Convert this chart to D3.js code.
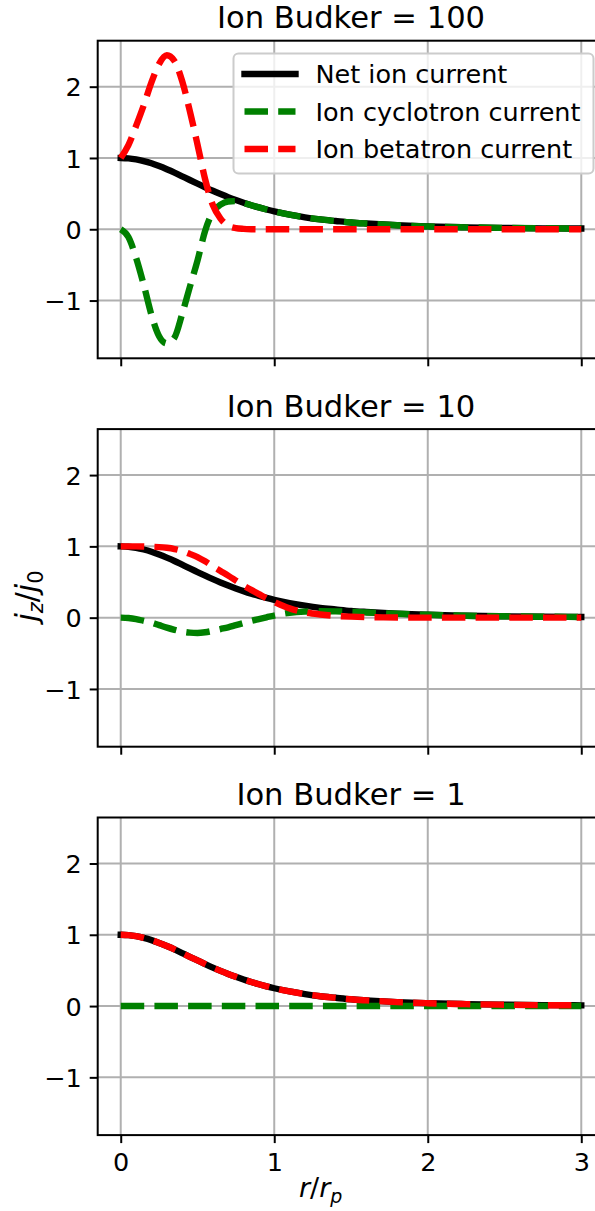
<!DOCTYPE html>
<html>
<head>
<meta charset="utf-8">
<script src="https://cdn.jsdelivr.net/npm/d3@7"></script>
<style>
  html, body { margin: 0; padding: 0; background: #fff; overflow: hidden; }
  svg { display: block; font-family: "DejaVu Sans", sans-serif; }
</style>
</head>
<body>
<svg id="chart" width="595" height="1211"></svg>
<script>
// Radial positions r/r_p where the current profiles are sampled
const rValues = [0, 0.05, 0.1, 0.15, 0.2, 0.25, 0.3, 0.35, 0.4, 0.45, 0.5, 0.55, 0.6, 0.65, 0.7, 0.75, 0.8, 0.85, 0.9, 0.95, 1.0, 1.1, 1.2, 1.3, 1.4, 1.5, 1.6, 1.8, 2.0, 2.25, 2.5, 2.75, 3.0];

// Net ion current j_z/j_0 (same in every panel)
const netCurrent = [1.0, 0.995, 0.98, 0.956, 0.925, 0.886, 0.842, 0.795, 0.743, 0.691, 0.64, 0.589, 0.54, 0.494, 0.45, 0.41, 0.372, 0.337, 0.306, 0.277, 0.25, 0.205, 0.168, 0.138, 0.116, 0.095, 0.08, 0.056, 0.04, 0.027, 0.019, 0.013, 0.01];

// Ion Budker = 100
const cyclotron100 = [0, -0.11, -0.4, -0.78, -1.2, -1.5, -1.6, -1.52, -1.19, -0.81, -0.44, -0.02, 0.24, 0.345, 0.39, 0.395, 0.37, 0.337, 0.306, 0.277, 0.25, 0.205, 0.168, 0.138, 0.116, 0.095, 0.08, 0.056, 0.04, 0.027, 0.019, 0.013, 0.01];
const betatron100 = [1.0, 1.18, 1.45, 1.74, 2.06, 2.32, 2.44, 2.36, 2.08, 1.66, 1.19, 0.7, 0.34, 0.15, 0.05, 0.016, 0.005, 0.001, 0, 0, 0, 0, 0, 0, 0, 0, 0, 0, 0, 0, 0, 0, 0];

// Ion Budker = 10
const cyclotron10 = [0, -0.005, -0.02, -0.045, -0.07, -0.105, -0.14, -0.17, -0.195, -0.21, -0.215, -0.205, -0.185, -0.16, -0.135, -0.105, -0.075, -0.045, -0.02, 0.005, 0.03, 0.068, 0.085, 0.09, 0.088, 0.082, 0.073, 0.054, 0.04, 0.027, 0.019, 0.013, 0.01];
const betatron10 = [1.0, 1.0, 1.0, 0.998, 0.995, 0.99, 0.98, 0.963, 0.935, 0.895, 0.85, 0.79, 0.72, 0.655, 0.59, 0.52, 0.45, 0.39, 0.33, 0.27, 0.22, 0.13, 0.075, 0.045, 0.025, 0.014, 0.007, 0.002, 0, 0, 0, 0, 0];

// Ion Budker = 1
const cyclotron1 = [0, 0, 0, 0, 0, 0, 0, 0, 0, 0, 0, 0, 0, 0, 0, 0, 0, 0, 0, 0, 0, 0, 0, 0, 0, 0, 0, 0, 0, 0, 0, 0, 0];
const betatron1 = [1.0, 0.995, 0.98, 0.956, 0.925, 0.886, 0.842, 0.795, 0.743, 0.691, 0.64, 0.589, 0.54, 0.494, 0.45, 0.41, 0.372, 0.337, 0.306, 0.277, 0.25, 0.205, 0.168, 0.138, 0.116, 0.095, 0.08, 0.056, 0.04, 0.027, 0.019, 0.013, 0.01];

const panelTitles = ["Ion Budker = 100", "Ion Budker = 10", "Ion Budker = 1"];
const seriesNames = ["Net ion current", "Ion cyclotron current", "Ion betatron current"];
const xTickValues = [0, 1, 2, 3];
const yTickValues = [-1, 0, 1, 2];

const panels = [
  { title: panelTitles[0], cyc: cyclotron100, beta: betatron100 },
  { title: panelTitles[1], cyc: cyclotron10, beta: betatron10 },
  { title: panelTitles[2], cyc: cyclotron1, beta: betatron1 }
];

const svg = d3.select("#chart");

const axLeft = 97.7, axRight = 604.3;
const panelTops = [40.7, 429.1, 817.5];
const panelHeight = 317.6;

const lw = 6.4;
const dashPattern = "23.5,10.2";
const colors = { net: "#000000", cyc: "#008000", beta: "#ff0000" };
const tickFont = 25.5, titleFont = 30.6;

const x = d3.scaleLinear().domain([-0.15, 3.15]).range([axLeft, axRight]);

panels.forEach((p, i) => {
  const top = panelTops[i], bottom = top + panelHeight;
  const y = d3.scaleLinear().domain([-1.81, 2.645]).range([bottom, top]);
  const g = svg.append("g");

  // grid
  g.selectAll(".vgrid").data(xTickValues).join("line")
    .attr("x1", d => x(d)).attr("x2", d => x(d))
    .attr("y1", top).attr("y2", bottom)
    .attr("stroke", "#b0b0b0").attr("stroke-width", 2);
  g.selectAll(".hgrid").data(yTickValues).join("line")
    .attr("x1", axLeft).attr("x2", axRight)
    .attr("y1", d => y(d)).attr("y2", d => y(d))
    .attr("stroke", "#b0b0b0").attr("stroke-width", 2);

  const rows = rValues.map((r, k) => ({ r, net: netCurrent[k], cyc: p.cyc[k], beta: p.beta[k] }));
  const lineFor = key => d3.line().x(d => x(d.r)).y(d => y(d[key])).curve(d3.curveMonotoneX);

  g.append("path").datum(rows).attr("d", lineFor("net"))
    .attr("fill", "none").attr("stroke", colors.net).attr("stroke-width", lw)
    .attr("stroke-linecap", "square").attr("stroke-linejoin", "round");
  g.append("path").datum(rows).attr("d", lineFor("cyc"))
    .attr("fill", "none").attr("stroke", colors.cyc).attr("stroke-width", lw)
    .attr("stroke-dasharray", dashPattern).attr("stroke-linejoin", "round");
  g.append("path").datum(rows).attr("d", lineFor("beta"))
    .attr("fill", "none").attr("stroke", colors.beta).attr("stroke-width", lw)
    .attr("stroke-dasharray", dashPattern).attr("stroke-linejoin", "round");

  // axes
  const yAxis = d3.axisLeft(y).tickValues(yTickValues).tickSizeInner(8).tickSizeOuter(0).tickPadding(8)
    .tickFormat(d => d < 0 ? "\u2212" + Math.abs(d) : d);
  const ya = g.append("g").attr("transform", `translate(${axLeft},0)`).call(yAxis);
  ya.select(".domain").remove();
  ya.selectAll("line").attr("stroke", "#000").attr("stroke-width", 2);
  ya.selectAll("text").attr("font-size", tickFont).attr("font-family", "DejaVu Sans").attr("fill", "#000").attr("dy", "0.36em");

  const xAxis = d3.axisBottom(x).tickValues(xTickValues).tickSizeInner(8).tickSizeOuter(0).tickPadding(9)
    .tickFormat(i === 2 ? d3.format("d") : () => "");
  const xa = g.append("g").attr("transform", `translate(0,${bottom})`).call(xAxis);
  xa.select(".domain").remove();
  xa.selectAll("line").attr("stroke", "#000").attr("stroke-width", 2);
  xa.selectAll("text").attr("font-size", tickFont).attr("font-family", "DejaVu Sans").attr("fill", "#000").attr("dy", "0.76em");

  // frame
  g.append("rect").attr("x", axLeft).attr("y", top).attr("width", axRight - axLeft).attr("height", panelHeight)
    .attr("fill", "none").attr("stroke", "#000").attr("stroke-width", 2);

  // title
  g.append("text").attr("x", (axLeft + axRight) / 2).attr("y", top - 12.4)
    .attr("text-anchor", "middle").attr("font-size", titleFont).attr("fill", "#000").text(p.title);

  // legend on first panel
  if (i === 0) {
    const lg = g.append("g");
    lg.append("rect").attr("x", 233.5).attr("y", 53.5).attr("width", 360).attr("height", 120)
      .attr("rx", 5).attr("fill", "#fff").attr("fill-opacity", 0.8)
      .attr("stroke", "#cccccc").attr("stroke-width", 2);
    const styles = [
      { c: colors.net, dash: null },
      { c: colors.cyc, dash: dashPattern },
      { c: colors.beta, dash: dashPattern }
    ];
    seriesNames.forEach((name, k) => {
      const cy = 74 + k * 37.5;
      const ln = lg.append("line").attr("x1", 244.5).attr("x2", 295.5).attr("y1", cy).attr("y2", cy)
        .attr("stroke", styles[k].c).attr("stroke-width", lw);
      if (styles[k].dash) ln.attr("stroke-dasharray", styles[k].dash);
      else ln.attr("stroke-linecap", "square");
      lg.append("text").attr("x", 315.5).attr("y", cy + 9.2).attr("font-size", tickFont)
        .attr("fill", "#000").text(name);
    });
  }
});

// y-axis label j_z/j_0
const ylab = svg.append("text")
  .attr("transform", "translate(37,596) rotate(-90)")
  .attr("text-anchor", "middle").attr("font-size", 30).attr("fill", "#000");
ylab.append("tspan").attr("font-style", "italic").text("j");
ylab.append("tspan").attr("font-style", "italic").attr("font-size", 21).attr("dy", 6).text("z");
ylab.append("tspan").attr("dy", -6).text("/");
ylab.append("tspan").attr("font-style", "italic").text("j");
ylab.append("tspan").attr("font-size", 21).attr("dy", 6).text("0");

// x-axis label r/r_p
const xlab = svg.append("text")
  .attr("x", 299).attr("y", 1197)
  .attr("text-anchor", "start").attr("font-size", 27).attr("fill", "#000");
xlab.append("tspan").attr("font-style", "italic").text("r");
xlab.append("tspan").text("/");
xlab.append("tspan").attr("font-style", "italic").text("r");
xlab.append("tspan").attr("font-style", "italic").attr("font-size", 19).attr("dy", 6).text("p");
</script>
</body>
</html>
